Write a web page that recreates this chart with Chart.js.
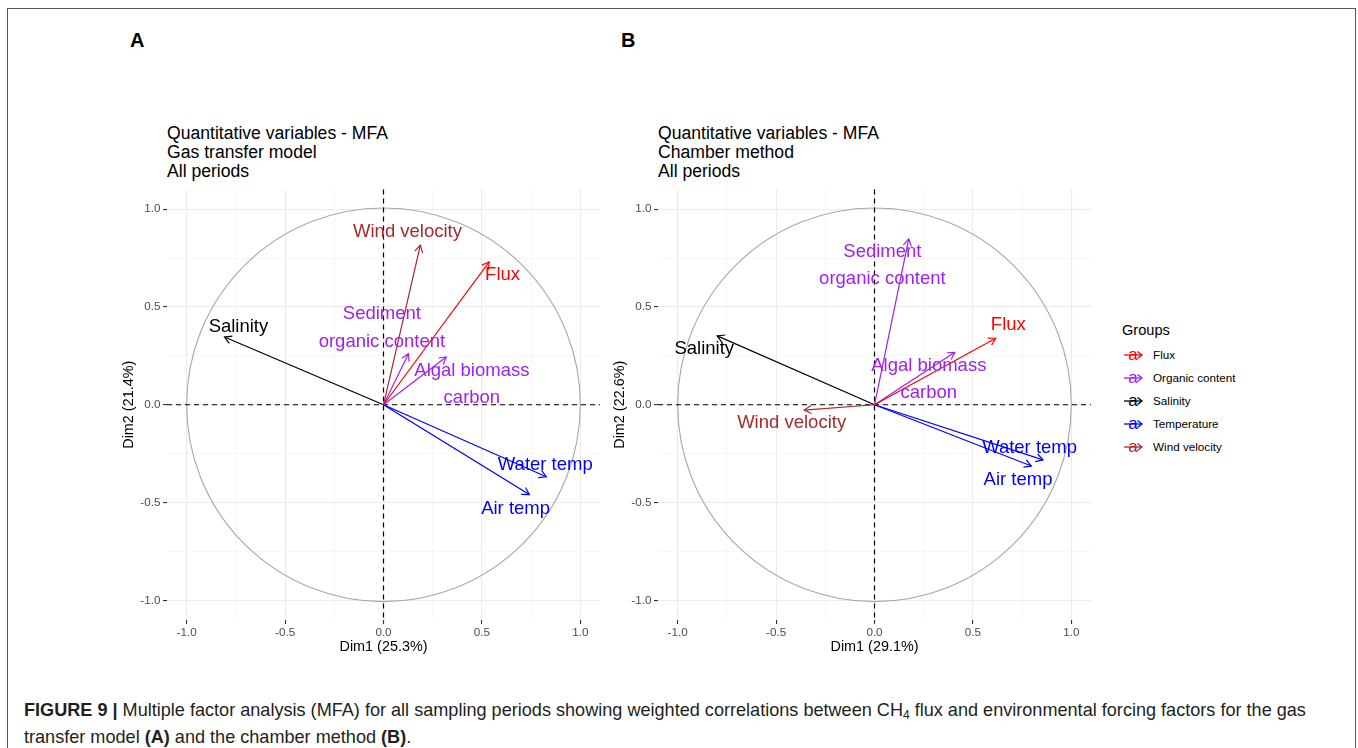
<!DOCTYPE html>
<html>
<head>
<meta charset="utf-8">
<script src="https://cdn.jsdelivr.net/npm/chart.js@4.4.1/dist/chart.umd.min.js"></script>
<style>
html,body{margin:0;padding:0;background:#fff;}
body{width:1358px;height:748px;position:relative;overflow:hidden;font-family:"Liberation Sans",Arial,Helvetica,sans-serif;color:#000;}
.frame{position:absolute;left:7px;top:8px;width:1349px;height:780px;border:1px solid #555;box-sizing:border-box;}
.letter{position:absolute;font-weight:bold;font-size:20px;line-height:24px;top:28px;}
.ptitle{position:absolute;top:123.5px;font-size:17.6px;line-height:19px;white-space:pre;}
.cw{position:absolute;top:180px;width:510px;height:480px;}
.lgt{position:absolute;left:1122px;top:321px;font-size:14.6px;line-height:18px;white-space:nowrap;}
.lgi{position:absolute;left:1123px;height:18px;white-space:nowrap;font-size:11.7px;line-height:18px;}
.lgi svg{position:absolute;left:0;top:2px;}
.lgi span{position:absolute;left:30px;top:0;}
.caption{position:absolute;left:24px;top:697px;font-size:18.1px;line-height:26.5px;white-space:nowrap;color:#231f20;}
.caption sub{font-size:12px;line-height:0;vertical-align:-3px;}
</style>
</head>
<body>
<div class="frame"></div>
<div class="letter" style="left:130px;">A</div>
<div class="letter" style="left:621px;">B</div>
<div class="ptitle" style="left:167px;">Quantitative variables - MFA
Gas transfer model
All periods</div>
<div class="ptitle" style="left:658px;">Quantitative variables - MFA
Chamber method
All periods</div>
<div class="cw" style="left:100px;"><canvas id="cA" width="510" height="480"></canvas></div>
<div class="cw" style="left:591px;"><canvas id="cB" width="510" height="480"></canvas></div>
<div class="lgt">Groups</div>
<div id="legend"></div>
<div class="caption"><b>FIGURE 9 |</b> Multiple factor analysis (MFA) for all sampling periods showing weighted correlations between CH<sub>4</sub> flux and environmental forcing factors for the gas<br>transfer model <b>(A)</b> and the chamber method <b>(B)</b>.</div>
<script>
// ---------- data ----------
const groups = ['Flux', 'Organic content', 'Salinity', 'Temperature', 'Wind velocity'];
const groupColors = ['#FF0000', '#A020F0', '#000000', '#0000FF', '#A52A2A'];

const variables = ['Flux', 'Sediment\norganic content', 'Algal biomass\ncarbon', 'Salinity', 'Water temp', 'Air temp', 'Wind velocity'];
const variableGroup = [0, 1, 1, 2, 3, 3, 4];

// Panel A : gas transfer model
const dim1A = [0.537, 0.127, 0.319, -0.808, 0.827, 0.741, 0.187];
const dim2A = [0.730, 0.261, 0.244, 0.346, -0.368, -0.459, 0.815];
const labelDim1A = [0.605, -0.008, 0.449, -0.737, 0.822, 0.671, 0.122];
const labelDim2A = [0.663, 0.393, 0.103, 0.400, -0.307, -0.532, 0.883];

// Panel B : chamber method
const dim1B = [0.616, 0.174, 0.408, -0.799, 0.856, 0.797, -0.357];
const dim2B = [0.340, 0.848, 0.268, 0.352, -0.282, -0.313, -0.027];
const labelDim1B = [0.680, 0.040, 0.276, -0.865, 0.788, 0.729, -0.421];
const labelDim2B = [0.408, 0.711, 0.130, 0.284, -0.223, -0.384, -0.095];

const gridBreaks = [-1, -0.75, -0.5, -0.25, 0, 0.25, 0.5, 0.75, 1];
const majorBreaks = [-1, -0.5, 0, 0.5, 1];
const majorLabels = ['-1.0', '-0.5', '0.0', '0.5', '1.0'];
const axisRange = [-1.1, 1.1];

// ---------- drawing ----------
const FONT = "'Liberation Sans', Arial, Helvetica, sans-serif";
Chart.defaults.font.family = FONT;

function majorIndex(v) {
  for (let i = 0; i < majorBreaks.length; i++) if (Math.abs(majorBreaks[i] - v) < 1e-9) return i;
  return -1;
}

function scaleOpts(isX) {
  return {
    type: 'linear',
    min: axisRange[0],
    max: axisRange[1],
    afterBuildTicks: s => { s.ticks = gridBreaks.map(v => ({ value: v })); },
    afterFit: s => { if (isX) s.height = 40; else s.width = 67; },
    border: { display: false },
    grid: {
      color: c => majorIndex(c.tick.value) >= 0 ? '#EBEBEB' : '#F2F2F2',
      lineWidth: c => majorIndex(c.tick.value) >= 0 ? 1.1 : 0.6,
      tickColor: c => majorIndex(c.tick.value) >= 0 ? '#333333' : 'rgba(0,0,0,0)',
      tickLength: 4,
      tickWidth: 1.1,
      drawTicks: true
    },
    ticks: {
      autoSkip: false,
      maxRotation: 0,
      minRotation: 0,
      padding: isX ? 2 : 2.5,
      color: '#4D4D4D',
      font: { size: 11.7, family: FONT },
      callback: v => { const i = majorIndex(v); return i >= 0 ? majorLabels[i] : ''; }
    }
  };
}

function makeChart(id, dim1, dim2, labX, labY, xTitle, yTitle) {
  const datasets = variables.map((name, i) => ({
    label: name,
    data: [{ x: 0, y: 0 }, { x: dim1[i], y: dim2[i] }],
    showLine: true,
    borderColor: groupColors[variableGroup[i]],
    backgroundColor: groupColors[variableGroup[i]],
    borderWidth: 1.2,
    pointRadius: 0,
    pointHoverRadius: 0,
    fill: false
  }));

  const decor = {
    id: 'decor_' + id,
    beforeDatasetsDraw(chart) {
      const ctx = chart.ctx, xs = chart.scales.x, ys = chart.scales.y, ca = chart.chartArea;
      const x0 = xs.getPixelForValue(0), y0 = ys.getPixelForValue(0);
      const r = xs.getPixelForValue(1) - x0;
      ctx.save();
      // correlation circle
      ctx.beginPath();
      ctx.strokeStyle = '#A8A8A8';
      ctx.lineWidth = 1.1;
      ctx.arc(x0, y0, r, 0, Math.PI * 2);
      ctx.stroke();
      // zero lines
      ctx.strokeStyle = '#000';
      ctx.lineWidth = 1.2;
      ctx.setLineDash([5, 4]);
      ctx.beginPath();
      ctx.moveTo(ca.left, y0); ctx.lineTo(ca.right, y0);
      ctx.moveTo(x0, ca.top); ctx.lineTo(x0, ca.bottom);
      ctx.stroke();
      ctx.restore();
    },
    afterDatasetsDraw(chart) {
      const ctx = chart.ctx, xs = chart.scales.x, ys = chart.scales.y, ca = chart.chartArea;
      ctx.save();
      // arrow heads
      chart.data.datasets.forEach((ds, i) => {
        const pts = chart.getDatasetMeta(i).data;
        const b = pts[0], t = pts[1];
        const a = Math.atan2(t.y - b.y, t.x - b.x);
        const L = 8, h = Math.PI / 6;
        ctx.strokeStyle = ds.borderColor;
        ctx.lineWidth = 1.2;
        ctx.setLineDash([]);
        ctx.beginPath();
        ctx.moveTo(t.x - L * Math.cos(a - h), t.y - L * Math.sin(a - h));
        ctx.lineTo(t.x, t.y);
        ctx.lineTo(t.x - L * Math.cos(a + h), t.y - L * Math.sin(a + h));
        ctx.stroke();
      });
      // variable labels
      ctx.font = '18.5px ' + FONT;
      ctx.textAlign = 'center';
      ctx.textBaseline = 'middle';
      variables.forEach((name, i) => {
        const lines = name.split('\n');
        const px = xs.getPixelForValue(labX[i]), py = ys.getPixelForValue(labY[i]);
        const lh = 27.3;
        ctx.fillStyle = groupColors[variableGroup[i]];
        lines.forEach((ln, k) => {
          ctx.fillText(ln, px, py + (k - (lines.length - 1) / 2) * lh);
        });
      });
      // axis titles
      ctx.fillStyle = '#000';
      ctx.font = '14.4px ' + FONT;
      ctx.fillText(xTitle, (ca.left + ca.right) / 2, ca.bottom + 27);
      ctx.translate(ca.left - 38, (ca.top + ca.bottom) / 2);
      ctx.rotate(-Math.PI / 2);
      ctx.fillText(yTitle, 0, 0);
      ctx.restore();
    }
  };

  return new Chart(document.getElementById(id), {
    type: 'scatter',
    data: { datasets },
    options: {
      responsive: false,
      animation: false,
      devicePixelRatio: 1,
      layout: { padding: { left: 0, right: 10, top: 7, bottom: 0 } },
      plugins: { legend: { display: false }, tooltip: { enabled: false }, title: { display: false } },
      events: [],
      scales: { x: scaleOpts(true), y: scaleOpts(false) }
    },
    plugins: [decor]
  });
}

makeChart('cA', dim1A, dim2A, labelDim1A, labelDim2A, 'Dim1 (25.3%)', 'Dim2 (21.4%)');
makeChart('cB', dim1B, dim2B, labelDim1B, labelDim2B, 'Dim1 (29.1%)', 'Dim2 (22.6%)');

// legend
const lg = document.getElementById('legend');
groups.forEach((g, i) => {
  const d = document.createElement('div');
  d.className = 'lgi';
  d.style.top = (355 + i * 23 - 9) + 'px';
  const c = groupColors[i];
  d.innerHTML = '<svg width="24" height="14" viewBox="0 0 24 14">' +
    '<line x1="1" y1="7" x2="19" y2="7" stroke="' + c + '" stroke-width="1.3"/>' +
    '<polyline points="14.5,3.5 19,7 14.5,10.5" fill="none" stroke="' + c + '" stroke-width="1.3"/>' +
    '<text x="10" y="12" text-anchor="middle" font-size="17" font-family="Liberation Sans, Arial, sans-serif" fill="' + c + '">a</text>' +
    '</svg><span>' + g + '</span>';
  lg.appendChild(d);
});
</script>
</body>
</html>
